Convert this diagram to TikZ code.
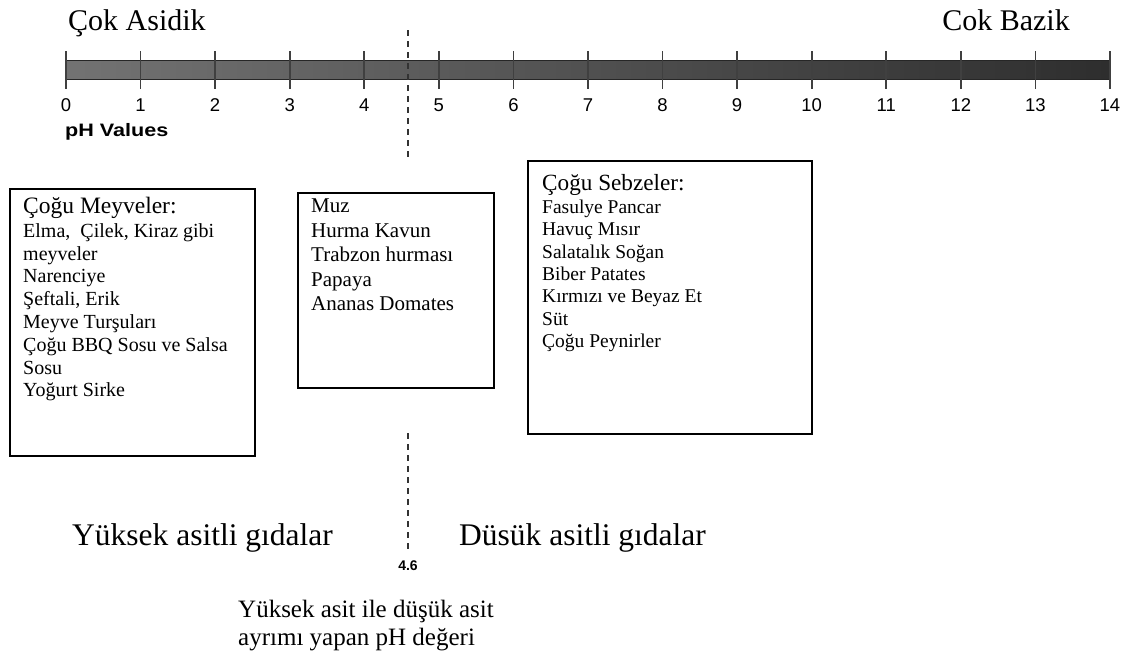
\documentclass[tikz,border=0pt]{standalone}
\usepackage{fontspec}
\setmainfont{Liberation Serif}
\newfontfamily\arialfont{Liberation Sans}
\usetikzlibrary{positioning}

\begin{document}
\begin{tikzpicture}[x=1pt, y=-1pt,
    title/.style={font=\fontsize{30}{34}\selectfont, inner sep=0pt},
    bigtext/.style={font=\fontsize{31.5}{34}\selectfont, inner sep=0pt},
    num/.style={font=\arialfont\fontsize{18.5}{20}\selectfont, inner sep=0pt},
    foodbox/.style={draw, line width=1.6pt, anchor=north west, inner sep=0pt},
    boxtext/.style={align=left, inner sep=0pt},
    tick/.style={line width=1.6pt, draw=black!75},
    divider/.style={line width=2pt, dash pattern=on 6pt off 5pt, draw=black!80}]
  \useasboundingbox (0,0) rectangle (1123,659);
  \fill[white] (0,0) rectangle (1123,659);

  % basliklar
  \node[title, anchor=base west] (asidik) at (68,30) {Çok Asidik};
  \node[title, anchor=base east] (bazik) at (1070,30) {Cok Bazik};

  % pH cubugu
  \shade[left color=black!55, right color=black!82, draw=black!85, line width=1pt] (66,60) rectangle (1110,79);
  \foreach \v in {0,...,14} {
    \draw[tick] ({66+74.57*\v},51) -- ({66+74.57*\v},89);
    \node[num] (n\v) at ({66+74.57*\v},105) {\v};
  }
  \node[num, font=\arialfont\bfseries\fontsize{18}{20}\selectfont, anchor=base west] (phval) at (65,136) {\scalebox{1.2}[1]{pH Values}};

  % 4.6 siniri
  \coordinate (dtop1) at (408,30);
  \coordinate (dbot1) at (408,157);
  \coordinate (dtop2) at (408,433);
  \coordinate (dbot2) at (408,552);
  \draw[divider] (dtop1) -- (dbot1);
  \draw[divider] (dtop2) -- (dbot2);
  \node[num, font=\arialfont\bfseries\fontsize{14}{16}\selectfont] (sinir) at (408,566) {4.6};

  % kutular
  \node[foodbox, minimum width=245pt, minimum height=267pt] (meyve) at (9,188) {};
  \node[boxtext, font=\fontsize{20}{22.8}\selectfont, below right=9pt and 14pt of meyve.north west] (meyvetxt)
    {{\fontsize{23.5}{22.8}\selectfont Çoğu Meyveler:}\\[1pt]Elma,\ \ Çilek, Kiraz gibi\\meyveler\\Narenciye\\Şeftali, Erik\\Meyve Turşuları\\Çoğu BBQ Sosu ve Salsa\\Sosu\\Yoğurt Sirke};

  \node[foodbox, minimum width=196pt, minimum height=195pt] (muz) at (297,192) {};
  \node[boxtext, font=\fontsize{21}{24.4}\selectfont, below right=7pt and 14pt of muz.north west] (muztxt)
    {Muz\\Hurma Kavun\\Trabzon hurması\\Papaya\\Ananas Domates};

  \node[foodbox, minimum width=284pt, minimum height=273pt] (sebze) at (527,160) {};
  \node[boxtext, font=\fontsize{19.5}{22.3}\selectfont, below right=14pt and 15pt of sebze.north west] (sebzetxt)
    {{\fontsize{23.2}{22.3}\selectfont Çoğu Sebzeler:}\\[1pt]Fasulye Pancar\\Havuç Mısır\\Salatalık Soğan\\Biber Patates\\Kırmızı ve Beyaz Et\\Süt\\Çoğu Peynirler};

  % alt yazilar
  \node[bigtext, anchor=base west] (yuksek) at (72,545) {Yüksek asitli gıdalar};
  \node[bigtext, anchor=base west] (dusuk) at (459,545) {Düsük asitli gıdalar};
  \node[boxtext, font=\fontsize{25}{28}\selectfont, anchor=north west] (aciklama) at (238,600)
    {Yüksek asit ile düşük asit\\ayrımı yapan pH değeri};
\end{tikzpicture}
\end{document}
